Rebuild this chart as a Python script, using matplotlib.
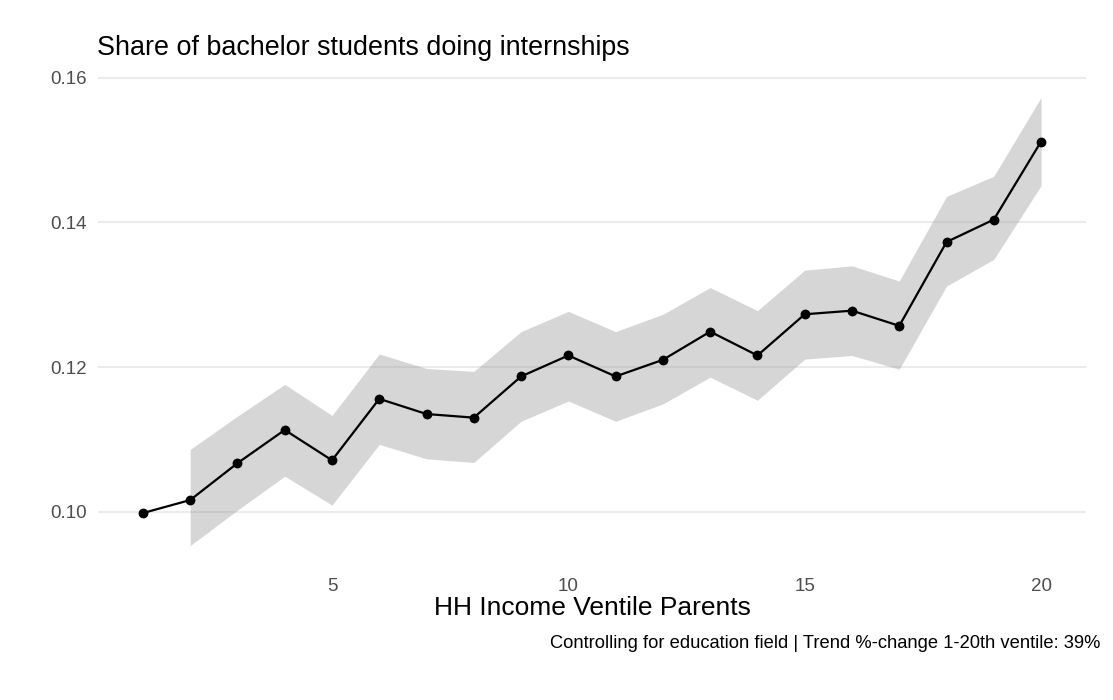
import matplotlib
matplotlib.use("Agg")
import matplotlib.pyplot as plt
import numpy as np

plt.rcParams['font.family'] = ['Liberation Sans', 'DejaVu Sans']

# Data
ventile = list(range(1, 21))
share = [0.0998, 0.1016, 0.1067, 0.1113, 0.1071, 0.1156, 0.1135, 0.1130, 0.1187, 0.1216,
         0.1187, 0.1210, 0.1249, 0.1216, 0.1273, 0.1278, 0.1257, 0.1373, 0.1404, 0.1512]
lower = [np.nan, 0.0953, 0.1002, 0.1049, 0.1009, 0.1093, 0.1073, 0.1068, 0.1125, 0.1153,
         0.1125, 0.1149, 0.1186, 0.1154, 0.1211, 0.1216, 0.1197, 0.1312, 0.1349, 0.1451]
upper = [np.nan, 0.1086, 0.1132, 0.1176, 0.1133, 0.1218, 0.1198, 0.1194, 0.1249, 0.1277,
         0.1249, 0.1273, 0.1310, 0.1278, 0.1334, 0.1340, 0.1319, 0.1436, 0.1464, 0.1573]
x_ticks = [5, 10, 15, 20]
y_ticks = [0.10, 0.12, 0.14, 0.16]
y_ticklabels = ["0.10", "0.12", "0.14", "0.16"]

title = "Share of bachelor students doing internships"
xlabel = "HH Income Ventile Parents"
caption = "Controlling for education field | Trend %-change 1-20th ventile: 39%"

W, H = 1113, 700
fig = plt.figure(figsize=(W / 100, H / 100), dpi=100)
ax = fig.add_axes([98 / W, 1 - 568 / H, (1086 - 98) / W, (568 - 75) / H])

x = np.array(ventile, dtype=float)
lo = np.array(lower)
hi = np.array(upper)
ax.fill_between(x, lo, hi, color='#999999', alpha=0.4, linewidth=0, zorder=2)
ax.plot(x, share, color='black', linewidth=1.6, zorder=3)
ax.scatter(x, share, s=50, color='black', zorder=4, linewidths=0)

# ggplot-like 5% expansion
xmin, xmax = min(ventile), max(ventile)
xr = xmax - xmin
ax.set_xlim(xmin - 0.05 * xr, xmax + 0.05 * xr)
allv = np.concatenate([np.array(share), lo[~np.isnan(lo)], hi[~np.isnan(hi)]])
ymin, ymax = allv.min(), allv.max()
yr = ymax - ymin
ax.set_ylim(ymin - 0.05 * yr, ymax + 0.05 * yr)

ax.set_xticks(x_ticks)
ax.set_xticklabels([str(t) for t in x_ticks])
ax.set_yticks(y_ticks)
ax.set_yticklabels(y_ticklabels)
ax.tick_params(axis='both', length=0, colors='#4D4D4D', labelsize=13.5)
ax.tick_params(axis='y', pad=8)
ax.tick_params(axis='x', pad=7)
ax.grid(axis='y', color='#EBEBEB', linewidth=1.5, zorder=1)
ax.set_axisbelow(True)
for s in ax.spines.values():
    s.set_visible(False)

fig.text(97 / W, 1 - 48 / H, title, ha='left', va='center', fontsize=19.4, color='black')
fig.text(592 / W, 1 - 608 / H, xlabel, ha='center', va='center', fontsize=19, color='black')
fig.text(1100 / W, 1 - 643 / H, caption, ha='right', va='center', fontsize=13.2, color='black')

fig.savefig("out.png", dpi=100, facecolor='white')
